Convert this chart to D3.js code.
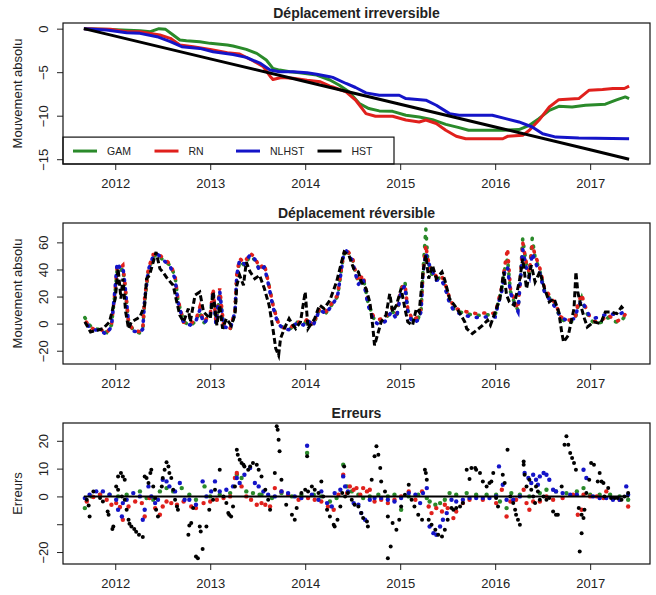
<!DOCTYPE html>
<html>
<head>
<meta charset="utf-8">
<script src="https://cdn.jsdelivr.net/npm/d3@7"></script>
<style>
  body { margin: 0; background: #fff; }
  text { font-family: "Liberation Sans", Arial, sans-serif; fill: #222; }
</style>
</head>
<body>
<div id="plot"></div>
<script>
// ---- data (decimal year, value) ----
var years = [2012, 2013, 2014, 2015, 2016, 2017];
var seriesNames = ["GAM", "RN", "NLHST", "HST"];
var seriesColors = ["#2a8a2a", "#e0201c", "#1414c8", "#000000"];

// Déplacement irreversible
var gamIrr = [[2011.67,0],[2011.95,-0.1],[2012.26,-0.23],[2012.37,-0.35],[2012.46,0],[2012.53,-0.08],[2012.61,-0.73],[2012.68,-1.3],
  [2012.75,-1.38],[2012.89,-1.5],[2013.0,-1.69],[2013.18,-1.88],[2013.24,-2.0],[2013.38,-2.38],[2013.49,-2.84],[2013.59,-3.6],
  [2013.66,-4.57],[2013.73,-4.76],[2013.84,-4.96],[2013.94,-5.07],[2014.12,-5.34],[2014.26,-5.9],[2014.36,-6.5],[2014.46,-7.26],
  [2014.57,-8.6],[2014.67,-9.18],[2014.78,-9.45],[2014.92,-9.5],[2015.06,-9.95],[2015.2,-10.15],[2015.34,-10.45],[2015.48,-11.0],
  [2015.62,-11.37],[2015.72,-11.68],[2015.9,-11.68],[2016.08,-11.68],[2016.25,-11.6],[2016.36,-11.1],[2016.46,-10.34],[2016.57,-9.38],
  [2016.67,-8.92],[2016.81,-9.0],[2016.95,-8.8],[2017.16,-8.68],[2017.27,-8.22],[2017.37,-7.84],[2017.41,-8.03]];
var rnIrr = [[2011.67,0],[2011.95,-0.08],[2012.12,-0.35],[2012.26,-0.35],[2012.37,-0.54],[2012.47,-0.73],[2012.58,-1.11],[2012.68,-1.88],
  [2012.82,-2.07],[2013.0,-2.38],[2013.18,-2.76],[2013.31,-2.92],[2013.45,-3.69],[2013.56,-4.38],[2013.63,-5.46],[2013.66,-5.84],
  [2013.75,-5.61],[2013.87,-5.69],[2014.02,-5.92],[2014.16,-6.1],[2014.26,-6.6],[2014.29,-6.7],[2014.43,-7.26],[2014.53,-8.2],
  [2014.64,-9.76],[2014.74,-10.07],[2014.92,-10.07],[2015.06,-10.5],[2015.2,-10.72],[2015.27,-10.5],[2015.38,-10.9],[2015.48,-11.68],
  [2015.59,-12.37],[2015.69,-12.65],[2015.9,-12.65],[2016.08,-12.65],[2016.13,-12.37],[2016.29,-12.26],[2016.36,-11.68],[2016.46,-10.53],
  [2016.57,-9.0],[2016.67,-8.16],[2016.88,-8.03],[2016.99,-7.07],[2017.13,-7.0],[2017.24,-6.88],[2017.36,-6.88],[2017.41,-6.6]];
var nlhstIrr = [[2011.67,0],[2011.91,-0.15],[2012.12,-0.46],[2012.26,-0.54],[2012.44,-0.92],[2012.58,-1.5],[2012.7,-2.07],[2012.89,-2.27],
  [2013.03,-2.65],[2013.24,-2.96],[2013.38,-3.3],[2013.53,-4.0],[2013.63,-4.76],[2013.73,-4.96],[2013.87,-4.96],[2014.02,-5.07],
  [2014.12,-5.23],[2014.26,-5.53],[2014.29,-5.6],[2014.43,-6.3],[2014.53,-6.76],[2014.64,-7.38],[2014.78,-7.65],[2014.99,-7.65],
  [2015.06,-8.03],[2015.27,-8.22],[2015.38,-8.8],[2015.52,-9.76],[2015.62,-9.95],[2015.97,-9.95],[2016.11,-10.34],[2016.25,-10.72],
  [2016.39,-11.3],[2016.5,-12.07],[2016.64,-12.46],[2016.88,-12.57],[2017.41,-12.65]];
var hstIrr = [[2011.67,0],[2012.0,-0.86],[2013.0,-3.47],[2014.0,-6.08],[2015.0,-8.69],[2016.0,-11.3],[2017.0,-13.91],[2017.41,-15.0]];

// Déplacement réversible (GAM, RN, NLHST share the same dates)
var revDates = [2011.68,2011.72,2011.77,2011.84,2011.91,2011.96,2012.00,2012.02,2012.05,2012.08,
  2012.10,2012.14,2012.19,2012.26,2012.29,2012.31,2012.35,2012.40,2012.45,2012.50,
  2012.58,2012.63,2012.66,2012.72,2012.79,2012.85,2012.89,2012.93,2013.00,2013.03,
  2013.06,2013.10,2013.14,2013.21,2013.26,2013.28,2013.31,2013.36,2013.42,2013.47,
  2013.52,2013.57,2013.61,2013.66,2013.71,2013.77,2013.84,2013.91,2013.98,2014.03,
  2014.08,2014.15,2014.22,2014.29,2014.34,2014.40,2014.43,2014.50,2014.52,2014.56,
  2014.61,2014.66,2014.72,2014.77,2014.84,2014.91,2014.96,2015.01,2015.05,2015.08,
  2015.13,2015.19,2015.22,2015.24,2015.27,2015.29,2015.33,2015.38,2015.43,2015.47,
  2015.52,2015.57,2015.68,2015.79,2015.93,2016.00,2016.03,2016.07,2016.10,2016.13,
  2016.16,2016.21,2016.24,2016.27,2016.29,2016.33,2016.36,2016.39,2016.42,2016.47,
  2016.52,2016.59,2016.64,2016.69,2016.77,2016.84,2016.87,2016.91,2016.94,2016.99,
  2017.05,2017.12,2017.19,2017.24,2017.29,2017.34,2017.39];
var gamRev = [4.5,-0.5,-3.5,-4.5,-6.5,-1.0,24.0,40.0,38.0,41.0,
  29.0,1.5,-5.0,-7.0,-4.0,17.0,39.0,49.5,51.0,47.0,
  43.0,35.0,17.0,1.5,-1.5,2.0,9.0,0.5,5.0,23.0,
  0.5,22.0,-2.5,-4.5,8.0,34.0,46.0,43.0,50.0,47.0,
  40.0,42.0,31.0,14.0,2.0,-3.0,-4.0,1.0,-0.5,3.0,
  -1.5,10.0,8.0,15.0,20.0,49.0,55.0,47.0,40.0,30.0,
  34.0,16.0,4.0,1.5,3.0,10.0,5.0,26.0,31.0,10.0,
  2.0,4.0,10.0,38.0,70.0,47.0,37.0,33.0,34.0,28.0,
  17.0,10.0,7.5,6.0,6.5,6.5,15.0,26.0,40.0,48.0,
  24.0,14.0,10.0,38.0,63.0,42.0,37.0,63.0,49.0,39.0,
  24.0,17.0,12.0,3.5,0.5,2.5,12.0,19.0,12.0,4.0,
  0.0,1.0,4.5,2.0,1.0,3.0,8.0];
var rnRev = [3.0,-1.5,-4.0,-4.0,-7.0,-1.5,26.0,42.0,41.0,43.0,
  31.0,1.0,-5.0,-6.0,-3.5,19.0,41.0,51.0,52.0,48.5,
  44.0,35.0,18.0,1.0,0.0,3.0,12.0,1.5,6.5,26.0,
  1.5,26.0,-1.0,-3.5,9.0,37.0,48.0,45.0,52.0,49.0,
  41.0,44.0,31.0,14.0,1.5,-3.0,-3.5,1.5,0.0,4.0,
  -1.0,11.0,9.0,16.0,21.0,50.0,55.5,48.0,41.0,31.0,
  36.0,16.5,5.0,3.0,4.0,11.5,6.5,26.0,29.0,11.0,
  2.5,5.0,11.0,38.0,58.0,48.0,39.0,35.0,36.0,30.0,
  19.0,11.5,9.0,7.5,8.0,7.5,16.0,27.0,42.0,55.5,
  26.0,16.0,11.0,38.0,60.0,44.0,38.0,58.0,51.0,41.0,
  26.0,19.0,14.0,5.0,2.5,3.5,14.0,22.0,14.0,6.0,
  1.5,2.5,6.5,3.5,2.0,4.0,9.0];
var nlhstRev = [2.5,-2.0,-4.5,-5.0,-8.0,-2.0,27.0,45.0,41.0,42.0,
  30.0,0.5,-5.5,-6.5,-4.0,18.0,40.0,50.0,51.0,47.5,
  42.0,33.0,16.0,0.5,-1.0,2.0,10.0,0.0,5.5,24.0,
  0.0,24.0,-2.0,-4.0,8.5,36.0,47.0,44.0,51.0,47.5,
  39.0,42.0,30.0,12.5,0.5,-4.0,-4.5,0.5,-1.0,2.5,
  -2.0,10.0,7.5,14.5,20.0,49.0,54.0,46.0,39.0,29.0,
  33.0,14.0,2.0,-0.5,1.5,9.0,3.5,24.0,28.0,8.5,
  0.5,2.5,9.0,37.0,52.0,46.0,40.0,32.0,33.0,27.0,
  15.0,9.0,6.0,4.5,5.0,5.0,14.0,24.0,38.0,42.0,
  23.0,13.0,9.0,36.0,55.0,40.0,35.0,52.0,46.0,37.0,
  23.0,16.0,11.5,4.5,2.0,4.0,12.0,17.0,13.0,6.0,
  4.0,5.5,7.5,7.0,6.5,8.0,10.0];
var hstRev = [[2011.68,1.3],[2011.74,-6.1],[2011.81,-4.9],[2011.87,-3.7],[2011.94,1.3],[2012.00,18.5],[2012.03,40.6],[2012.06,18.5],
  [2012.08,33.2],[2012.11,8.6],[2012.14,-3.7],[2012.17,1.3],[2012.26,4.9],[2012.31,13.6],[2012.33,33.2],[2012.36,35.7],[2012.40,45.5],
  [2012.43,52.9],[2012.47,40.6],[2012.50,38.2],[2012.55,33.2],[2012.61,28.3],[2012.64,18.5],[2012.68,6.2],[2012.72,1.3],[2012.77,11.1],
  [2012.79,1.3],[2012.84,21.0],[2012.89,23.4],[2012.93,8.6],[2013.00,3.7],[2013.03,23.4],[2013.07,-1.2],[2013.10,13.6],[2013.13,-3.7],
  [2013.17,3.7],[2013.22,-1.2],[2013.26,6.2],[2013.28,28.3],[2013.31,35.7],[2013.35,28.3],[2013.38,45.5],[2013.42,38.2],[2013.47,33.2],
  [2013.52,35.7],[2013.57,25.9],[2013.62,13.6],[2013.66,-3.7],[2013.69,-18.5],[2013.72,-23.4],[2013.74,-11.0],[2013.78,-3.7],[2013.83,3.7],
  [2013.86,0.0],[2013.90,-3.7],[2013.95,1.3],[2014.00,23.4],[2014.03,-3.7],[2014.10,3.7],[2014.15,13.6],[2014.20,11.1],[2014.26,17.3],
  [2014.33,30.8],[2014.41,52.9],[2014.46,50.5],[2014.51,40.6],[2014.56,38.2],[2014.59,30.8],[2014.64,25.9],[2014.68,16.0],[2014.71,-1.2],
  [2014.73,-16.0],[2014.76,-8.6],[2014.80,1.3],[2014.85,6.2],[2014.89,22.1],[2014.92,8.6],[2014.96,13.6],[2015.01,25.9],[2015.05,11.1],
  [2015.08,1.3],[2015.13,-1.2],[2015.17,11.1],[2015.20,8.6],[2015.24,38.2],[2015.27,50.5],[2015.30,33.2],[2015.34,43.1],[2015.38,33.2],
  [2015.44,38.2],[2015.47,32.0],[2015.52,18.5],[2015.57,13.6],[2015.62,8.6],[2015.68,1.3],[2015.70,-3.7],[2015.76,-7.4],[2015.87,-1.2],
  [2015.92,2.5],[2015.95,-1.2],[2016.00,8.6],[2016.05,18.5],[2016.09,38.2],[2016.12,21.0],[2016.15,16.0],[2016.20,13.6],[2016.26,33.2],
  [2016.29,48.0],[2016.33,25.9],[2016.38,43.1],[2016.42,30.8],[2016.47,38.2],[2016.52,25.9],[2016.57,16.0],[2016.62,18.5],[2016.67,8.6],
  [2016.70,-6.1],[2016.72,-13.6],[2016.77,-8.6],[2016.80,1.3],[2016.83,11.1],[2016.85,38.2],[2016.87,23.4],[2016.90,13.6],[2016.94,3.7],
  [2016.97,-2.5],[2017.04,1.3],[2017.11,0.0],[2017.16,8.6],[2017.21,8.6],[2017.28,7.4],[2017.33,12.3],[2017.36,9.9]];

// Erreurs
var gamErr = [[2011.68,-4.2],[2011.75,0],[2011.84,0.6],[2011.94,0.6],[2012.03,0],[2012.12,0.6],[2012.26,1.8],[2012.33,-0.6],[2012.4,-1.2],
  [2012.47,1.8],[2012.54,3],[2012.61,1.8],[2012.7,3],[2012.78,0.6],[2012.85,-1.2],[2012.94,3.6],[2013.0,0],[2013.1,0.6],[2013.21,1.2],
  [2013.28,7.8],[2013.33,6.6],[2013.38,1.8],[2013.45,1.2],[2013.52,0.6],[2013.54,0.6],[2013.65,-0.6],[2013.75,1.2],[2013.86,0],
  [2013.96,0.6],[2014.02,15.6],[2014.09,0.6],[2014.17,0],[2014.26,-1.8],[2014.33,-0.6],[2014.4,11.4],[2014.44,3.6],[2014.49,1.8],
  [2014.56,0.6],[2014.61,-0.6],[2014.68,0],[2014.77,0.6],[2014.87,0],[2014.94,0.6],[2015.01,-4.8],[2015.09,0],[2015.19,0.6],
  [2015.28,-0.6],[2015.31,-1.8],[2015.37,-3],[2015.42,-2.4],[2015.47,-1.2],[2015.52,1.2],[2015.59,0.6],[2015.7,1.2],[2015.8,0.6],
  [2015.91,0.6],[2016.01,0.6],[2016.05,-1.8],[2016.12,-4.2],[2016.17,1.2],[2016.26,0.6],[2016.36,0],[2016.47,1.2],[2016.54,2.4],
  [2016.64,1.8],[2016.75,1.2],[2016.86,1.8],[2016.93,3],[2017.0,0.6],[2017.1,0.6],[2017.21,0.6],[2017.31,0],[2017.4,-1.2]];
var rnErr = [[2011.7,-1.8],[2011.77,-0.2],[2011.84,0.6],[2011.91,-1.2],[2011.96,-3],[2012.01,-2.4],[2012.05,-3.8],[2012.08,-8.4],
  [2012.14,-3.6],[2012.21,-1.8],[2012.28,-2.4],[2012.31,-7.2],[2012.36,-0.6],[2012.42,-4.2],[2012.47,-6.6],[2012.5,-3.6],[2012.54,-1.8],
  [2012.59,-2.4],[2012.65,-3],[2012.72,-1.8],[2012.8,-3.6],[2012.85,-4.2],[2012.93,-2.4],[2013.0,-1.8],[2013.07,-1.2],[2013.14,-0.6],
  [2013.21,0],[2013.26,6.6],[2013.28,8.4],[2013.33,3.6],[2013.38,0],[2013.43,-1.2],[2013.49,-3],[2013.54,-2.4],[2013.58,-3],
  [2013.63,-3.6],[2013.68,3],[2013.75,1.8],[2013.82,0.6],[2013.93,-1.2],[2014.03,-0.6],[2014.1,-1.2],[2014.17,-1.8],[2014.24,-3.6],
  [2014.3,-4.8],[2014.35,0.6],[2014.4,7.8],[2014.44,1.2],[2014.47,3.6],[2014.51,2.4],[2014.54,3],[2014.58,0.6],[2014.61,3],
  [2014.65,1.8],[2014.68,2.4],[2014.73,-1.8],[2014.8,-1.2],[2014.87,-2.4],[2014.94,-1.2],[2015.01,0],[2015.09,1.8],[2015.16,-1.2],
  [2015.23,1.8],[2015.3,-3.6],[2015.33,-6],[2015.38,-4.2],[2015.44,-5.4],[2015.47,-3],[2015.5,-4.2],[2015.56,-7.8],[2015.59,-5.4],
  [2015.66,-2.4],[2015.73,-1.2],[2015.87,-1.2],[2016.01,-2.4],[2016.07,2.4],[2016.12,-7.2],[2016.16,-1.8],[2016.22,-1.2],[2016.3,2.4],
  [2016.33,-2.4],[2016.36,-4.8],[2016.4,-1.8],[2016.47,-1.8],[2016.54,0],[2016.61,-1.2],[2016.71,-0.6],[2016.82,0.6],[2016.87,-6.6],
  [2016.91,-4.8],[2016.93,0.6],[2017.0,0],[2017.07,0],[2017.14,-0.6],[2017.17,1.8],[2017.24,-0.6],[2017.31,-1.2],[2017.4,-3.6]];
var nlhstErr = [[2011.68,-0.6],[2011.73,0.6],[2011.8,1.8],[2011.87,1.8],[2011.94,0.6],[2012.01,-1.2],[2012.03,-4.8],[2012.07,-7.2],
  [2012.08,-2.4],[2012.12,-1.2],[2012.19,1.2],[2012.26,0],[2012.29,-8.4],[2012.31,-4.8],[2012.35,3.6],[2012.38,0],[2012.42,-2.4],
  [2012.45,-1.2],[2012.5,6],[2012.54,5.4],[2012.57,3.6],[2012.63,1.8],[2012.68,4.8],[2012.73,-1.2],[2012.78,-1.2],[2012.85,-3],
  [2012.92,5.4],[2012.96,0],[2013.01,1.8],[2013.05,5.4],[2013.1,1.8],[2013.17,2.4],[2013.24,3.6],[2013.28,6.6],[2013.31,4.8],
  [2013.36,7.8],[2013.42,10.2],[2013.47,4.8],[2013.51,3.6],[2013.56,1.8],[2013.61,0.6],[2013.68,0],[2013.75,1.8],[2013.82,1.2],
  [2013.89,0],[2013.96,-0.6],[2014.02,18.2],[2014.07,0.6],[2014.14,-1.2],[2014.17,1.8],[2014.23,-2.4],[2014.28,-3.6],[2014.31,1.2],
  [2014.37,2.4],[2014.4,7.2],[2014.42,3.6],[2014.45,1.8],[2014.51,-2.4],[2014.56,-3],[2014.59,-6],[2014.63,-8.4],[2014.68,-1.2],
  [2014.73,-0.6],[2014.8,-0.6],[2014.87,-1.2],[2014.94,-1.8],[2015.01,-0.6],[2015.09,1.2],[2015.16,0.6],[2015.21,-2.4],[2015.24,1.2],
  [2015.28,3],[2015.31,-10.8],[2015.35,-13.2],[2015.38,-13.8],[2015.42,-10.8],[2015.45,-8.4],[2015.49,-6],[2015.54,-1.2],[2015.59,-1.8],
  [2015.66,-1.2],[2015.73,-0.6],[2015.8,-0.6],[2015.87,-0.6],[2015.94,-0.6],[2016.01,0],[2016.04,10.8],[2016.08,4.2],[2016.12,-1.2],
  [2016.19,-1.2],[2016.26,0],[2016.31,8.4],[2016.35,6.6],[2016.38,4.8],[2016.4,7.8],[2016.43,6],[2016.45,4.2],[2016.47,7.2],
  [2016.51,8.4],[2016.54,7.8],[2016.57,6],[2016.61,2.4],[2016.64,1.8],[2016.71,1.2],[2016.79,0.6],[2016.86,0.6],[2016.93,9.6],
  [2016.96,6.6],[2017.03,0],[2017.1,-0.6],[2017.17,-0.6],[2017.24,-1.2],[2017.31,-1.2],[2017.38,3.6],[2017.4,0.6]];
var hstErr = [[2011.7,-1.2],[2011.72,-3.3],[2011.73,-7.2],[2011.77,1.8],[2011.84,-0.6],[2011.87,-1.8],[2011.92,-5.4],[2011.93,-6.6],
  [2011.97,-11.7],[2011.98,-10.8],[2012.01,3.6],[2012.03,7.2],[2012.06,8.4],[2012.08,7.2],[2012.1,6.0],[2012.03,2.4],[2012.07,0],
  [2012.1,-1.2],[2012.12,-4.8],[2012.14,-8.4],[2012.15,-9.8],[2012.17,-10.8],[2012.2,-11.7],[2012.22,-12.7],[2012.25,-13.8],[2012.29,-14.6],
  [2012.31,7.2],[2012.33,6.6],[2012.35,4.8],[2012.37,8.4],[2012.38,9.6],[2012.4,3.6],[2012.42,-0.6],[2012.43,-4.8],[2012.45,-7.2],
  [2012.49,3.6],[2012.5,6.6],[2012.52,9.6],[2012.54,12.3],[2012.56,10.8],[2012.57,8.4],[2012.59,6.6],[2012.61,2.4],[2012.63,-1.2],
  [2012.65,-3.6],[2012.66,-4.8],[2012.77,-13.8],[2012.78,-10.5],[2012.8,-9.6],[2012.82,-4.2],[2012.85,-21.6],[2012.87,-22.2],[2012.92,-18.9],
  [2012.89,-10.8],[2012.9,-12.6],[2012.96,-10.8],[2012.99,-4.8],[2013.03,-1.2],[2013.05,2.4],[2013.1,9.6],[2013.14,0],[2013.17,-2.4],
  [2013.19,-6],[2013.2,-6.6],[2013.22,-7.2],[2013.24,-3.6],[2013.26,3.6],[2013.28,16.8],[2013.29,15.0],[2013.31,13.2],[2013.33,12.0],
  [2013.35,11.4],[2013.36,10.8],[2013.4,9.6],[2013.42,10.8],[2013.45,12.0],[2013.49,11.4],[2013.51,9.6],[2013.54,7.2],[2013.58,2.4],
  [2013.61,-1.2],[2013.63,-4.8],[2013.68,8.4],[2013.7,25.2],[2013.71,24],[2013.72,20.4],[2013.73,16.2],[2013.75,6.0],[2013.8,-3],
  [2013.86,-6.6],[2013.89,-8.4],[2013.91,-4.2],[2013.96,1.2],[2014.0,2.4],[2014.02,14.4],[2014.03,1.8],[2014.07,3.6],[2014.1,2.4],
  [2014.14,1.2],[2014.17,5.4],[2014.19,0],[2014.23,-4.8],[2014.26,-7.2],[2014.3,-10.2],[2014.31,-10.8],[2014.34,-8.4],[2014.37,-3.6],
  [2014.39,1.2],[2014.41,10.8],[2014.42,0],[2014.45,1.2],[2014.49,-1.2],[2014.52,-3],[2014.56,-3.6],[2014.59,-6],[2014.61,-7.8],
  [2014.65,-9],[2014.66,-10.8],[2014.7,6],[2014.73,14.4],[2014.75,18],[2014.77,15],[2014.79,10.2],[2014.8,5.4],[2014.84,1.8],
  [2014.87,-7.2],[2014.9,-18],[2014.87,-22.2],[2014.92,-9.6],[2014.96,-12],[2014.99,-8.4],[2015.01,-3.6],[2015.05,0.6],[2015.09,4.2],
  [2015.12,-1.2],[2015.15,-3.6],[2015.19,-6.6],[2015.23,-8.4],[2015.26,9.6],[2015.27,8.4],[2015.28,6],[2015.3,-8.4],[2015.33,-10.2],
  [2015.37,-12],[2015.4,-13.8],[2015.44,-14.4],[2015.47,-12],[2015.5,-8.4],[2015.54,-4.2],[2015.56,-4.8],[2015.59,-4.2],[2015.63,-3.6],
  [2015.66,-2.4],[2015.7,9.6],[2015.73,6.3],[2015.75,10.2],[2015.79,10.2],[2015.8,9.6],[2015.84,8.4],[2015.87,5.4],[2015.91,3.6],
  [2015.94,4.8],[2015.96,5.4],[2015.98,8.4],[2016.01,-0.6],[2016.03,-3.6],[2016.08,7.8],[2016.1,4.8],[2016.13,16.8],[2016.16,0],
  [2016.19,-2.4],[2016.21,-4.8],[2016.22,-6.6],[2016.24,-8.4],[2016.26,-10.2],[2016.3,12.6],[2016.3,11.4],[2016.31,7.8],[2016.33,3.6],
  [2016.36,6],[2016.38,2.4],[2016.4,0],[2016.42,-2.4],[2016.43,3.6],[2016.45,1.8],[2016.47,-1.2],[2016.51,0],[2016.54,-1.2],
  [2016.57,-0.6],[2016.61,-5.4],[2016.64,-6.6],[2016.66,-6.6],[2016.7,3.6],[2016.73,18.6],[2016.75,21.6],[2016.77,18.6],[2016.79,15.6],
  [2016.81,13.8],[2016.83,12],[2016.85,9.6],[2016.88,-4.2],[2016.91,-6.6],[2016.91,-13.2],[2016.89,-19.8],[2016.93,-7.8],[2016.94,-4.8],
  [2016.96,1.2],[2016.99,6],[2017.01,12],[2017.04,11.4],[2017.08,5.4],[2017.1,8.4],[2017.12,5.4],[2017.14,4.8],[2017.15,0],
  [2017.19,3],[2017.22,-0.6],[2017.26,-0.6],[2017.29,-0.6],[2017.33,-1.2],[2017.36,0],[2017.4,1.2]];

// ---- layout ----
var W = 656, H = 595;
var plotLeft = 63, plotRight = 650;

var svg = d3.select("div#plot").append("svg")
    .attr("width", W)
    .attr("height", H);

var x = d3.scaleLinear()
    .domain([2011.45, 2017.63])
    .range([plotLeft, plotRight]);

function zip(dates, vals) {
  return dates.map(function(d, i) { return [d, vals[i]]; });
}

// draws frame, axes, titles of one panel and returns its y scale + group
function panel(top, bottom, yDomain, yTicks, hideLabel, title, ylab) {
  var y = d3.scaleLinear().domain(yDomain).range([bottom, top]);
  var g = svg.append("g");

  var xa = g.append("g")
      .attr("transform", "translate(0," + bottom + ")")
      .call(d3.axisBottom(x).tickValues(years).tickFormat(d3.format("d")).tickSizeOuter(0).tickSize(6).tickPadding(8.5));
  xa.select(".domain").remove();
  xa.selectAll(".tick line").attr("stroke", "#222");
  xa.selectAll(".tick text").style("font-size", "13px").attr("fill", "#222")
      .style("font-family", "'Liberation Sans', Arial, sans-serif");

  var ya = g.append("g")
      .attr("transform", "translate(" + plotLeft + ",0)")
      .call(d3.axisLeft(y).tickValues(yTicks).tickSizeOuter(0).tickSize(6)
        .tickFormat(function(d) { return hideLabel.indexOf(d) >= 0 ? "" : d3.format("d")(d); }));
  ya.select(".domain").remove();
  ya.selectAll(".tick line").attr("stroke", "#222");
  ya.selectAll(".tick text")
      .attr("x", null).attr("dy", null)
      .attr("text-anchor", "middle")
      .attr("transform", "translate(-15.5,0) rotate(-90)")
      .attr("fill", "#222")
      .style("font-size", "13px")
      .style("font-family", "'Liberation Sans', Arial, sans-serif");

  g.append("text")
      .attr("x", (plotLeft + plotRight) / 2)
      .attr("y", top - 5.5)
      .attr("text-anchor", "middle")
      .style("font-size", "14px")
      .style("font-weight", "bold")
      .text(title);

  g.append("text")
      .attr("transform", "translate(22," + ((top + bottom) / 2) + ") rotate(-90)")
      .attr("text-anchor", "middle")
      .style("font-size", "13px")
      .text(ylab);

  var body = g.append("g");

  g.append("rect")
      .attr("x", plotLeft).attr("y", top)
      .attr("width", plotRight - plotLeft).attr("height", bottom - top)
      .attr("fill", "none").attr("stroke", "#111").attr("stroke-width", 1.2);

  return {y: y, g: body};
}

// ---- panel 1: Déplacement irreversible ----
var p1 = panel(23, 164, [-15.55, 0.65], [0, -5, -10, -15], [], "Déplacement irreversible", "Mouvement absolu");
var line1 = d3.line().x(d => x(d[0])).y(d => p1.y(d[1]));
[gamIrr, rnIrr, nlhstIrr, hstIrr].forEach(function(s, i) {
  p1.g.append("path")
      .datum(s)
      .attr("d", line1)
      .attr("fill", "none")
      .attr("stroke", seriesColors[i])
      .attr("stroke-width", 3)
      .attr("stroke-linejoin", "round");
});

// legend
var legTop = p1.y(-12.46), legBottom = 164, legRight = 394;
p1.g.append("rect")
    .attr("x", plotLeft).attr("y", legTop)
    .attr("width", legRight - plotLeft).attr("height", legBottom - legTop)
    .attr("fill", "#fff").attr("stroke", "#111").attr("stroke-width", 1.2);
var legY = (legTop + legBottom) / 2 + 0.5;
var legend = p1.g.selectAll(".legend")
    .data(seriesNames)
    .enter().append("g")
    .attr("class", "legend")
    .attr("transform", function(d, i) { return "translate(" + (73 + i * 81.5) + "," + legY + ")"; });
legend.append("line")
    .attr("x1", 0).attr("x2", 24)
    .attr("stroke", function(d, i) { return seriesColors[i]; })
    .attr("stroke-width", 3);
legend.append("text")
    .attr("x", 34)
    .attr("dy", ".35em")
    .style("font-size", "10.5px")
    .text(function(d) { return d; });

// ---- panel 2: Déplacement réversible ----
var p2 = panel(223, 364, [-29.8, 74.3], [-20, 0, 20, 40, 60], [], "Déplacement réversible", "Mouvement absolu");
var line2 = d3.line().x(d => x(d[0])).y(d => p2.y(d[1]));
[gamRev, rnRev, nlhstRev].forEach(function(vals, i) {
  p2.g.append("path")
      .datum(zip(revDates, vals))
      .attr("d", line2)
      .attr("fill", "none")
      .attr("stroke", seriesColors[i])
      .attr("stroke-width", 3.6)
      .attr("stroke-linecap", "round")
      .attr("stroke-dasharray", "1,8")
      .attr("stroke-dashoffset", -3 * i);
});
p2.g.append("path")
    .datum(hstRev)
    .attr("d", line2)
    .attr("fill", "none")
    .attr("stroke", "#000")
    .attr("stroke-width", 3)
    .attr("stroke-dasharray", "6,3");

// ---- panel 3: Erreurs ----
var p3 = panel(423, 564, [-24.3, 26.4], [-20, -10, 0, 10, 20], [-10], "Erreurs", "Erreurs");
[gamErr, rnErr, nlhstErr].forEach(function(s, i) {
  p3.g.selectAll(".pt" + i)
      .data(s)
      .enter().append("circle")
      .attr("class", "pt" + i)
      .attr("cx", d => x(d[0]))
      .attr("cy", d => p3.y(d[1]))
      .attr("r", 2.2)
      .attr("fill", seriesColors[i]);
});
var span = d3.extent(hstIrr, d => d[0]);
p3.g.append("line")
    .attr("x1", x(span[0])).attr("x2", x(span[1]))
    .attr("y1", p3.y(0)).attr("y2", p3.y(0))
    .attr("stroke", "#000").attr("stroke-width", 2);
p3.g.selectAll(".pt3")
    .data(hstErr)
    .enter().append("circle")
    .attr("class", "pt3")
    .attr("cx", d => x(d[0]))
    .attr("cy", d => p3.y(d[1]))
    .attr("r", 2)
    .attr("fill", "#000");
</script>
</body>
</html>
